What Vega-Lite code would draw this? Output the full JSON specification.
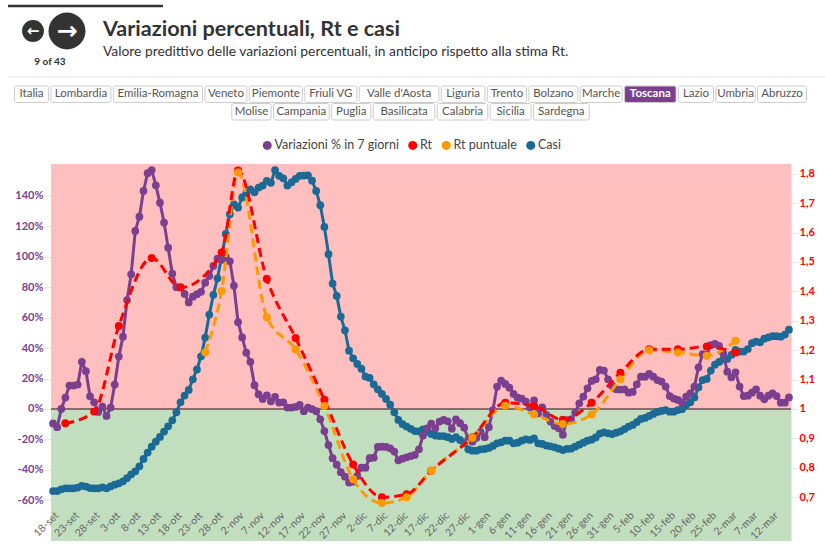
{"$schema":"https://vega.github.io/schema/vega-lite/v6.json","width":740,"height":377,"autosize":{"type":"none"},"padding":{"left":51,"top":164,"right":34,"bottom":12},"background":"white",
"title":{"text":"Variazioni percentuali, Rt e casi","subtitle":"Valore predittivo delle variazioni percentuali, in anticipo rispetto alla stima Rt.","anchor":"start","frame":"group","dx":52,"offset":-54,"font":"Lato","fontSize":21.6,"fontWeight":700,"color":"#333333","subtitleFont":"Lato","subtitleFontSize":13.85,"subtitleColor":"#333333","subtitlePadding":4},
"config":{"view":{"stroke":null},"font":"Lato","legend":{"orient":"none","legendX":210,"legendY":-25,"direction":"horizontal","columns":4,"title":null,"symbolType":"circle","symbolSize":81,"symbolStrokeWidth":0,"symbolOpacity":1,"labelFont":"Lato","labelFontSize":12.5,"labelColor":"#444444","columnPadding":7.5,"labelOffset":1}},
"datasets":{
"zone":[{"zona":"positivo","da":0,"a":161},{"zona":"negativo","da":-86.8,"a":0}],
"regioni":[{"name":"Italia","row":"1","i":1},{"name":"Lombardia","row":"1","i":2},{"name":"Emilia-Romagna","row":"1","i":3},{"name":"Veneto","row":"1","i":4},{"name":"Piemonte","row":"1","i":5},{"name":"Friuli VG","row":"1","i":6},{"name":"Valle d'Aosta","row":"1","i":7},{"name":"Liguria","row":"1","i":8},{"name":"Trento","row":"1","i":9},{"name":"Bolzano","row":"1","i":10},{"name":"Marche","row":"1","i":11},{"name":"Toscana","row":"1","i":12},{"name":"Lazio","row":"1","i":13},{"name":"Umbria","row":"1","i":14},{"name":"Abruzzo","row":"1","i":15},{"name":"Molise","row":"2","i":16},{"name":"Campania","row":"2","i":17},{"name":"Puglia","row":"2","i":18},{"name":"Basilicata","row":"2","i":19},{"name":"Calabria","row":"2","i":20},{"name":"Sicilia","row":"2","i":21},{"name":"Sardegna","row":"2","i":22}],
"serie":[
{"d":"2020-09-18","v":-9.5,"c":-54},{"d":"2020-09-19","v":-12,"c":-54},{"d":"2020-09-20","v":0,"c":-52.8},{"d":"2020-09-21","v":7.5,"c":-52.2,"r":0.951},{"d":"2020-09-22","v":15.4,"c":-52.2},{"d":"2020-09-23","v":15.4,"c":-52.2},{"d":"2020-09-24","v":16,"c":-51.7},{"d":"2020-09-25","v":31,"c":-50.6},{"d":"2020-09-26","v":24.8,"c":-51},{"d":"2020-09-27","v":8.3,"c":-52},{"d":"2020-09-28","v":4.4,"c":-52.2,"r":0.991},{"d":"2020-09-29","v":-2,"c":-52.2},{"d":"2020-09-30","v":1.5,"c":-51.5},
{"d":"2020-10-01","v":-4.6,"c":-52.2},{"d":"2020-10-02","v":0.9,"c":-50.9},{"d":"2020-10-03","v":16,"c":-49.8},{"d":"2020-10-04","v":34.4,"c":-48.9,"r":1.282},{"d":"2020-10-05","v":47.5,"c":-47.6},{"d":"2020-10-06","v":71.6,"c":-45.4},{"d":"2020-10-07","v":88.5,"c":-43},{"d":"2020-10-08","v":117,"c":-41},{"d":"2020-10-09","v":126.4,"c":-37.7},{"d":"2020-10-10","v":143.3,"c":-32.9},{"d":"2020-10-11","v":155,"c":-28.7},{"d":"2020-10-12","v":157,"c":-24.8,"r":1.513},{"d":"2020-10-13","v":147,"c":-21.5},{"d":"2020-10-14","v":135.6,"c":-18.4},{"d":"2020-10-15","v":122.5,"c":-14.9},{"d":"2020-10-16","v":106,"c":-11.4},{"d":"2020-10-17","v":89,"c":-7.5},{"d":"2020-10-18","v":80,"c":-2.2},{"d":"2020-10-19","v":80,"c":4.4,"r":1.413},{"d":"2020-10-20","v":75.6,"c":8.8},{"d":"2020-10-21","v":70,"c":12.5},{"d":"2020-10-22","v":73.8,"c":19.5},{"d":"2020-10-23","v":75.4,"c":26},{"d":"2020-10-24","v":77,"c":34.6},{"d":"2020-10-25","v":83,"c":46.9,"p":1.192},{"d":"2020-10-26","v":87.4,"c":62},{"d":"2020-10-27","v":94,"c":75},{"d":"2020-10-28","v":98.8,"c":85.9},{"d":"2020-10-29","v":98,"c":100,"r":1.532,"p":1.401},{"d":"2020-10-30","v":100,"c":115},{"d":"2020-10-31","v":97,"c":128},
{"d":"2020-11-01","v":81,"c":134.5},{"d":"2020-11-02","v":57,"c":132.4,"r":1.811,"p":1.804},{"d":"2020-11-03","v":47,"c":139},{"d":"2020-11-04","v":37,"c":141.8},{"d":"2020-11-05","v":31,"c":144.4},{"d":"2020-11-06","v":15.6,"c":142.4},{"d":"2020-11-07","v":9.6,"c":145.5},{"d":"2020-11-08","v":6.6,"c":146.8},{"d":"2020-11-09","v":9,"c":149.9,"r":1.442,"p":1.312},{"d":"2020-11-10","v":5,"c":148.6},{"d":"2020-11-11","v":8,"c":157},{"d":"2020-11-12","v":4.2,"c":153.2},{"d":"2020-11-13","v":4.4,"c":151.6},{"d":"2020-11-14","v":0.9,"c":146.8},{"d":"2020-11-15","v":0.9,"c":149},{"d":"2020-11-16","v":1.3,"c":151.2,"r":1.241,"p":1.202},{"d":"2020-11-17","v":2.6,"c":153.2},{"d":"2020-11-18","v":-1.5,"c":153.4},{"d":"2020-11-19","v":0.9,"c":153.6},{"d":"2020-11-20","v":-0.2,"c":150},{"d":"2020-11-21","v":-1.5,"c":143.3},{"d":"2020-11-22","v":-6.8,"c":133.9},{"d":"2020-11-23","v":-14.5,"c":119.6,"r":1.031,"p":1.01},{"d":"2020-11-24","v":-23.7,"c":101.7},{"d":"2020-11-25","v":-32.4,"c":82.4},{"d":"2020-11-26","v":-36.6,"c":74.3},{"d":"2020-11-27","v":-41.6,"c":60.7},{"d":"2020-11-28","v":-44.5,"c":51.7},{"d":"2020-11-29","v":-48.4,"c":38.3},{"d":"2020-11-30","v":-47.8,"c":33.3,"r":0.811,"p":0.761},
{"d":"2020-12-01","v":-44,"c":29.6},{"d":"2020-12-02","v":-38.6,"c":26.5},{"d":"2020-12-03","v":-38.6,"c":21.3},{"d":"2020-12-04","v":-32.4,"c":20.4},{"d":"2020-12-05","v":-32,"c":16.2},{"d":"2020-12-06","v":-25,"c":12.9},{"d":"2020-12-07","v":-24.8,"c":9.9,"r":0.7,"p":0.68},{"d":"2020-12-08","v":-25,"c":6.6},{"d":"2020-12-09","v":-25.9,"c":2.8},{"d":"2020-12-10","v":-28,"c":-2.2},{"d":"2020-12-11","v":-33.8,"c":-7.2},{"d":"2020-12-12","v":-32.7,"c":-9.9},{"d":"2020-12-13","v":-31.8,"c":-11.6,"r":0.71,"p":0.7},{"d":"2020-12-14","v":-31,"c":-13.1},{"d":"2020-12-15","v":-30.2,"c":-14.5},{"d":"2020-12-16","v":-26.5,"c":-14.7},{"d":"2020-12-17","v":-17.5,"c":-13.4},{"d":"2020-12-18","v":-12.7,"c":-14.9},{"d":"2020-12-19","v":-9.7,"c":-16.4,"r":0.79,"p":0.79},{"d":"2020-12-20","v":-12.7,"c":-17.5},{"d":"2020-12-21","v":-8.3,"c":-17.8},{"d":"2020-12-22","v":-7.2,"c":-17.8},{"d":"2020-12-23","v":-8.1,"c":-18.6},{"d":"2020-12-24","v":-13,"c":-19.7},{"d":"2020-12-25","v":-6.8,"c":-18.6},{"d":"2020-12-26","v":-9.4,"c":-20.4},{"d":"2020-12-27","v":-12.3,"c":-22.6},{"d":"2020-12-28","v":-20,"c":-26.5},{"d":"2020-12-29","v":-21.5,"c":-27.4,"r":0.904,"p":0.902},{"d":"2020-12-30","v":-19,"c":-27.4},{"d":"2020-12-31","v":-15,"c":-26.5},
{"d":"2021-01-01","v":-18.6,"c":-26.3},{"d":"2021-01-02","v":-12,"c":-25.6},{"d":"2021-01-03","v":-0.7,"c":-24.3},{"d":"2021-01-04","v":14.7,"c":-22.6},{"d":"2021-01-05","v":18.6,"c":-21.9},{"d":"2021-01-06","v":16.4,"c":-20.9,"r":1.021,"p":1.011},{"d":"2021-01-07","v":14,"c":-20.9},{"d":"2021-01-08","v":9.9,"c":-22.6},{"d":"2021-01-09","v":7.4,"c":-22.2},{"d":"2021-01-10","v":6.8,"c":-20.9},{"d":"2021-01-11","v":4.8,"c":-20},{"d":"2021-01-12","v":0.9,"c":-20.4},{"d":"2021-01-13","v":5.7,"c":-19.3,"r":1.01,"p":0.981},{"d":"2021-01-14","v":-2.9,"c":-22.6},{"d":"2021-01-15","v":1.1,"c":-23},{"d":"2021-01-16","v":-3.9,"c":-24.1},{"d":"2021-01-17","v":-8.3,"c":-24.6},{"d":"2021-01-18","v":-11.2,"c":-25.2},{"d":"2021-01-19","v":-12.7,"c":-26.1},{"d":"2021-01-20","v":-16.9,"c":-27,"r":0.963,"p":0.949},{"d":"2021-01-21","v":-7.3,"c":-26.3},{"d":"2021-01-22","v":-6.8,"c":-26.1},{"d":"2021-01-23","v":-2.4,"c":-24.8},{"d":"2021-01-24","v":3.7,"c":-23.5},{"d":"2021-01-25","v":8.1,"c":-22.2},{"d":"2021-01-26","v":13.6,"c":-20.9},{"d":"2021-01-27","v":18.4,"c":-20.2,"r":1.021,"p":0.981},{"d":"2021-01-28","v":19.5,"c":-18.7},{"d":"2021-01-29","v":25.6,"c":-16.2},{"d":"2021-01-30","v":25.2,"c":-15.4},{"d":"2021-01-31","v":19.5,"c":-16},
{"d":"2021-02-01","v":15.3,"c":-16.5},{"d":"2021-02-02","v":12.9,"c":-15.6},{"d":"2021-02-03","v":12.7,"c":-14.7,"r":1.123,"p":1.101},{"d":"2021-02-04","v":12.9,"c":-13.2},{"d":"2021-02-05","v":10.7,"c":-11.6},{"d":"2021-02-06","v":11.2,"c":-10.5},{"d":"2021-02-07","v":16.2,"c":-8.6},{"d":"2021-02-08","v":21.2,"c":-6.6},{"d":"2021-02-09","v":21.2,"c":-5.9},{"d":"2021-02-10","v":23,"c":-4.6,"r":1.203,"p":1.2},{"d":"2021-02-11","v":21.2,"c":-3.3},{"d":"2021-02-12","v":19,"c":-2},{"d":"2021-02-13","v":18,"c":-1.3},{"d":"2021-02-14","v":14.7,"c":-0.7},{"d":"2021-02-15","v":8.5,"c":-1.8},{"d":"2021-02-16","v":6.8,"c":-1.8},{"d":"2021-02-17","v":5.9,"c":-0.7,"r":1.203,"p":1.192},{"d":"2021-02-18","v":4.1,"c":-0.2},{"d":"2021-02-19","v":8.1,"c":2.6},{"d":"2021-02-20","v":10.3,"c":4.4},{"d":"2021-02-21","v":14.7,"c":7.6},{"d":"2021-02-22","v":27.4,"c":14.2},{"d":"2021-02-23","v":36.1,"c":19},{"d":"2021-02-24","v":35.5,"c":19.7,"r":1.212,"p":1.181},{"d":"2021-02-25","v":42,"c":25.2},{"d":"2021-02-26","v":42.7,"c":29.1},{"d":"2021-02-27","v":41.4,"c":30.9},{"d":"2021-02-28","v":36.6,"c":32.6},
{"d":"2021-03-01","v":24.5,"c":32.9},{"d":"2021-03-02","v":20.8,"c":35.5},{"d":"2021-03-03","v":24.1,"c":38.8,"r":1.192,"p":1.232},{"d":"2021-03-04","v":14.7,"c":37.7},{"d":"2021-03-05","v":8.5,"c":37.7},{"d":"2021-03-06","v":8.7,"c":39.4},{"d":"2021-03-07","v":10.7,"c":43.2},{"d":"2021-03-08","v":12.9,"c":44.3},{"d":"2021-03-09","v":8.7,"c":43.8},{"d":"2021-03-10","v":6.3,"c":46.2},{"d":"2021-03-11","v":8.7,"c":47.1},{"d":"2021-03-12","v":10.3,"c":47.8},{"d":"2021-03-13","v":8.5,"c":47.8},{"d":"2021-03-14","v":4.1,"c":47.5},{"d":"2021-03-15","v":4.1,"c":48.9},{"d":"2021-03-16","v":7.6,"c":52.1}]
},
"layer":[
{"data":{"name":"zone"},"layer":[
 {"mark":{"type":"rect"},"encoding":{"y":{"field":"da","type":"quantitative","scale":{"domain":[-86.8,161],"nice":false,"zero":false},"axis":null},"y2":{"field":"a"},"fill":{"field":"zona","type":"nominal","scale":{"domain":["positivo","negativo"],"range":["#ffbfbf","#c1dfbf"]},"legend":null}}},
 {"mark":{"type":"rule","color":"#8a6a6a","strokeWidth":2},"encoding":{"y":{"datum":0,"type":"quantitative"}}}
]},
{"data":{"values":[{"voce":"cornice","da":8,"a":163,"riga":6},{"voce":"separatore","da":8,"a":825,"riga":77}]},"mark":{"type":"rule"},"encoding":{"x":{"field":"da","type":"quantitative","scale":{"domain":[0,825],"range":[-51,774],"nice":false,"zero":false},"axis":null},"x2":{"field":"a"},"y":{"field":"riga","type":"quantitative","scale":{"domain":[0,553],"range":[-164,389],"nice":false,"zero":false},"axis":null},"stroke":{"field":"voce","type":"nominal","scale":{"domain":["cornice","separatore"],"range":["#333333","#e6e6e6"]},"legend":null},"strokeWidth":{"field":"voce","type":"nominal","scale":{"domain":["cornice","separatore"],"range":[2.5,1]},"legend":null}}},
{"data":{"values":[{"voce":"indietro","col":33,"riga":31,"freccia":"←","diam":"piccolo"},{"voce":"avanti","col":67,"riga":31,"freccia":"→","diam":"grande"}]},"resolve":{"scale":{"size":"independent"}},"layer":[
 {"mark":{"type":"point","filled":true,"opacity":1,"color":"#333333"},"encoding":{"x":{"field":"col","type":"quantitative","scale":{"domain":[0,825],"range":[-51,774],"nice":false,"zero":false},"axis":null},"y":{"field":"riga","type":"quantitative","scale":{"domain":[0,553],"range":[-164,389],"nice":false,"zero":false},"axis":null},"size":{"field":"diam","type":"nominal","scale":{"domain":["piccolo","grande"],"range":[480,1370]},"legend":null}}},
 {"mark":{"type":"text","font":"DejaVu Sans","fontWeight":"bold","color":"white","baseline":"middle","align":"center"},"encoding":{"x":{"field":"col","type":"quantitative","scale":{"domain":[0,825],"range":[-51,774],"nice":false,"zero":false},"axis":null},"y":{"field":"riga","type":"quantitative","scale":{"domain":[0,553],"range":[-164,389],"nice":false,"zero":false},"axis":null},"text":{"field":"freccia"},"size":{"field":"diam","type":"nominal","scale":{"domain":["piccolo","grande"],"range":[15,25]},"legend":null}}}
]},
{"data":{"values":[{"testo":"9 of 43","col":50,"riga":62}]},"mark":{"type":"text","font":"Lato","fontWeight":"bold","fontSize":10,"color":"#333333","baseline":"middle"},"encoding":{"x":{"field":"col","type":"quantitative","scale":{"domain":[0,825],"range":[-51,774],"nice":false,"zero":false},"axis":null},"y":{"field":"riga","type":"quantitative","scale":{"domain":[0,553],"range":[-164,389],"nice":false,"zero":false},"axis":null},"text":{"field":"testo"}}},
{"data":{"name":"regioni"},"transform":[{"calculate":"6.9*length(datum.name)-2.65*(length(datum.name)-length(replace(datum.name,/[Iiltr' -]/g,'')))+5.6","as":"w"},{"stack":"w","groupby":["row"],"sort":[{"field":"i","order":"ascending"}],"as":["s0","s1"]},{"joinaggregate":[{"op":"sum","field":"w","as":"tot"}],"groupby":["row"]},{"calculate":"359.5-datum.tot/2+datum.s0+1.2","as":"b0"},{"calculate":"359.5-datum.tot/2+datum.s1-1.2","as":"b1"},{"calculate":"(datum.b0+datum.b1)/2","as":"bm"}],"layer":[
 {"mark":{"type":"rect","cornerRadius":2,"stroke":"#cccccc","strokeWidth":1},"encoding":{"x":{"field":"b0","type":"quantitative","scale":{"domain":[0,740],"range":[0,740],"nice":false,"zero":false},"axis":null},"x2":{"field":"b1"},"y":{"field":"row","type":"nominal","scale":{"type":"band","domain":["1","2"],"range":[-78,-44],"paddingInner":0.06,"paddingOuter":0},"axis":null},"fill":{"condition":{"test":"datum.name==='Toscana'","value":"#7b3f8f"},"value":"white"}}},
 {"transform":[{"filter":"datum.name!=='Toscana'"}],"mark":{"type":"text","font":"Lato","fontSize":11.5,"color":"#555555"},"encoding":{"x":{"field":"bm","type":"quantitative","scale":{"domain":[0,740],"range":[0,740],"nice":false,"zero":false},"axis":null},"y":{"field":"row","type":"nominal","scale":{"type":"band","domain":["1","2"],"range":[-78,-44],"paddingInner":0.06,"paddingOuter":0},"axis":null},"text":{"field":"name"}}},
 {"transform":[{"filter":"datum.name==='Toscana'"}],"mark":{"type":"text","font":"Lato","fontSize":11.5,"fontWeight":"bold","color":"white"},"encoding":{"x":{"field":"bm","type":"quantitative","scale":{"domain":[0,740],"range":[0,740],"nice":false,"zero":false},"axis":null},"y":{"field":"row","type":"nominal","scale":{"type":"band","domain":["1","2"],"range":[-78,-44],"paddingInner":0.06,"paddingOuter":0},"axis":null},"text":{"field":"name"}}}
]},
{"data":{"name":"serie"},
 "encoding":{"x":{"field":"d","type":"temporal","title":null,"scale":{"type":"utc","domain":[{"year":2020,"month":9,"date":17,"hours":12,"utc":true},{"year":2021,"month":3,"date":16,"hours":12,"utc":true}],"nice":false},"axis":{"offset":-33,"zindex":1,"domain":false,"ticks":false,"grid":false,"labelAngle":-45,"labelAlign":"right","labelBaseline":"top","labelColor":"#666666","labelFont":"Lato","labelFontSize":10.5,"labelPadding":2,"labelOverlap":false,"labelExpr":"utcdate(datum.value)+'-'+['gen','feb','mar','apr','mag','giu','lug','ago','set','ott','nov','dic'][utcmonth(datum.value)]","values":[{"year":2020,"month":9,"date":18,"utc":true},{"year":2020,"month":9,"date":23,"utc":true},{"year":2020,"month":9,"date":28,"utc":true},{"year":2020,"month":10,"date":3,"utc":true},{"year":2020,"month":10,"date":8,"utc":true},{"year":2020,"month":10,"date":13,"utc":true},{"year":2020,"month":10,"date":18,"utc":true},{"year":2020,"month":10,"date":23,"utc":true},{"year":2020,"month":10,"date":28,"utc":true},{"year":2020,"month":11,"date":2,"utc":true},{"year":2020,"month":11,"date":7,"utc":true},{"year":2020,"month":11,"date":12,"utc":true},{"year":2020,"month":11,"date":17,"utc":true},{"year":2020,"month":11,"date":22,"utc":true},{"year":2020,"month":11,"date":27,"utc":true},{"year":2020,"month":12,"date":2,"utc":true},{"year":2020,"month":12,"date":7,"utc":true},{"year":2020,"month":12,"date":12,"utc":true},{"year":2020,"month":12,"date":17,"utc":true},{"year":2020,"month":12,"date":22,"utc":true},{"year":2020,"month":12,"date":27,"utc":true},{"year":2021,"month":1,"date":1,"utc":true},{"year":2021,"month":1,"date":6,"utc":true},{"year":2021,"month":1,"date":11,"utc":true},{"year":2021,"month":1,"date":16,"utc":true},{"year":2021,"month":1,"date":21,"utc":true},{"year":2021,"month":1,"date":26,"utc":true},{"year":2021,"month":1,"date":31,"utc":true},{"year":2021,"month":2,"date":5,"utc":true},{"year":2021,"month":2,"date":10,"utc":true},{"year":2021,"month":2,"date":15,"utc":true},{"year":2021,"month":2,"date":20,"utc":true},{"year":2021,"month":2,"date":25,"utc":true},{"year":2021,"month":3,"date":2,"utc":true},{"year":2021,"month":3,"date":7,"utc":true},{"year":2021,"month":3,"date":12,"utc":true}]}}},
 "resolve":{"scale":{"y":"independent"}},
 "layer":[
  {"encoding":{"y":{"type":"quantitative","scale":{"domain":[-86.8,161],"nice":false,"zero":false},"axis":{"orient":"left","title":null,"grid":false,"values":[-60,-40,-20,0,20,40,60,80,100,120,140],"labelExpr":"datum.value+'%'","labelColor":"#7b3f8f","labelFont":"Lato","labelFontWeight":"bold","labelFontSize":11,"domainColor":"#e6e6e6","tickColor":"#e6e6e6","tickSize":7,"labelPadding":1}}},"layer":[
   {"mark":{"type":"line","stroke":"#1b6a96","strokeWidth":3},"encoding":{"y":{"field":"c"}}},
   {"mark":{"type":"point","filled":true,"opacity":1,"size":60},"encoding":{"y":{"field":"c"},"color":{"datum":"Casi","type":"nominal","scale":{"domain":["Variazioni % in 7 giorni","Rt","Rt puntuale","Casi"],"range":["#7b3f8f","#ff0000","#ff9900","#1b6a96"]}}}},
   {"mark":{"type":"line","stroke":"#7b3f8f","strokeWidth":3},"encoding":{"y":{"field":"v"}}},
   {"mark":{"type":"point","filled":true,"opacity":1,"size":60},"encoding":{"y":{"field":"v"},"color":{"datum":"Variazioni % in 7 giorni","type":"nominal"}}}
  ]},
  {"encoding":{"y":{"type":"quantitative","scale":{"domain":[0.551,1.833],"nice":false,"zero":false},"axis":{"orient":"right","title":null,"grid":false,"values":[0.7,0.8,0.9,1,1.1,1.2,1.3,1.4,1.5,1.6,1.7,1.8],"labelExpr":"replace(format(datum.value,'.2~f'),'.',',')","labelColor":"#ff0000","labelFont":"Lato","labelFontWeight":"bold","labelFontSize":11,"domainColor":"#e6e6e6","tickColor":"#e6e6e6","tickSize":7,"labelPadding":1}}},"layer":[
   {"transform":[{"filter":"isValid(datum.p)"}],"mark":{"type":"line","stroke":"#ff9900","strokeWidth":3,"strokeDash":[9,5],"interpolate":"monotone"},"encoding":{"y":{"field":"p"}}},
   {"transform":[{"filter":"isValid(datum.r)"}],"mark":{"type":"line","stroke":"#ff0000","strokeWidth":3,"strokeDash":[9,5],"interpolate":"monotone"},"encoding":{"y":{"field":"r"}}},
   {"transform":[{"filter":"isValid(datum.r)"}],"mark":{"type":"point","filled":true,"opacity":1,"size":64},"encoding":{"y":{"field":"r"},"color":{"datum":"Rt","type":"nominal"}}},
   {"transform":[{"filter":"isValid(datum.p)"}],"mark":{"type":"point","filled":true,"opacity":1,"size":64},"encoding":{"y":{"field":"p"},"color":{"datum":"Rt puntuale","type":"nominal"}}}
  ]}
 ]}
],
"resolve":{"scale":{"x":"independent","y":"independent","size":"independent","stroke":"independent"}}
}
